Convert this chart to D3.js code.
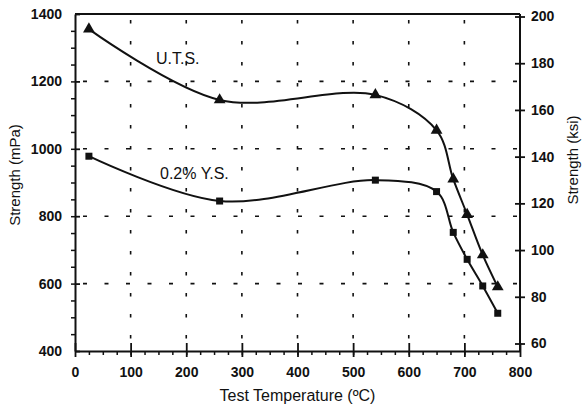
<!DOCTYPE html>
<html>
<head>
<meta charset="utf-8">
<script src="https://cdn.jsdelivr.net/npm/d3@7"></script>
<style>
  body { margin: 0; background: #fff; }
  svg { display: block; font-family: "Liberation Sans", Arial, sans-serif; }
</style>
</head>
<body>
<div id="chart"></div>
<script>
// test temperature (C) of each measured point
let temps = [25, 260, 540, 650, 680, 705, 733, 760];
// ultimate tensile strength (MPa)
let utsValues = [1355, 1145, 1160, 1055, 910, 805, 685, 590];
// 0.2% yield strength (MPa)
let ysValues = [978, 845, 907, 873, 752, 672, 593, 512];

let xTicks = [0, 100, 200, 300, 400, 500, 600, 700, 800];
let yTicks = [400, 600, 800, 1000, 1200, 1400];
let ksiTicks = [60, 80, 100, 120, 140, 160, 180, 200];

let width = 587;
let height = 404;
let margin = { left: 75, right: 67, top: 14, bottom: 53 };

let svg = d3.select("#chart").append("svg")
    .attr("width", width)
    .attr("height", height);

let x = d3.scaleLinear()
    .domain([0, 800])
    .range([margin.left, width - margin.right]);

let y = d3.scaleLinear()
    .domain([400, 1400])
    .range([height - margin.bottom, margin.top]);

// right hand axis in ksi
let yKsi = d3.scaleLinear()
    .domain([60, 200])
    .range([343.5, 16.5]);

let ink = "#111";

// grid lines (dashed), skip the frame lines
let grid = svg.append("g");
grid.selectAll("line.h")
    .data(yTicks.filter(d => d > 400 && d < 1400))
    .enter().append("line")
    .attr("x1", x(0)).attr("x2", x(800))
    .attr("y1", d => y(d)).attr("y2", d => y(d))
    .attr("stroke", ink)
    .attr("stroke-width", 1.6)
    .attr("stroke-dasharray", "4 17.5")
    .attr("stroke-dashoffset", -8);

grid.selectAll("line.v")
    .data(xTicks.filter(d => d > 0 && d < 800))
    .enter().append("line")
    .attr("x1", d => x(d)).attr("x2", d => x(d))
    .attr("y1", y(1400)).attr("y2", y(400))
    .attr("stroke", ink)
    .attr("stroke-width", 1.6)
    .attr("stroke-dasharray", "3.5 17.5")
    .attr("stroke-dashoffset", -6);

// top frame line
svg.append("line")
    .attr("x1", x(0)).attr("x2", x(800))
    .attr("y1", y(1400)).attr("y2", y(1400))
    .attr("stroke", ink)
    .attr("stroke-width", 2);

// minor ticks first so the major axes draw on top
let leftMinor = svg.append("g")
    .attr("transform", `translate(${margin.left}, 0)`)
    .call(d3.axisLeft(y).tickValues(d3.range(450, 1400, 50)).tickSize(4).tickFormat(""));

let bottomMinor = svg.append("g")
    .attr("transform", `translate(0, ${height - margin.bottom})`)
    .call(d3.axisBottom(x).tickValues(d3.range(25, 800, 25)).tickSize(4).tickFormat(""));

[leftMinor, bottomMinor].forEach(g => {
    g.select(".domain").remove();
    g.selectAll("line").attr("stroke", ink).attr("stroke-width", 1.5);
});

// left axis
let yAxisG = svg.append("g")
    .attr("transform", `translate(${margin.left}, 0)`)
    .call(d3.axisLeft(y).tickValues(yTicks).tickFormat(d3.format("d"))
        .tickSize(8).tickSizeOuter(0).tickPadding(5));
yAxisG.selectAll(".tick line").attr("x2", 5);

// bottom axis
let xAxisG = svg.append("g")
    .attr("transform", `translate(0, ${height - margin.bottom})`)
    .call(d3.axisBottom(x).tickValues(xTicks).tickFormat(d3.format("d"))
        .tickSize(6).tickSizeOuter(0).tickPadding(10));
xAxisG.selectAll(".tick line").attr("y2", 6).attr("y1", -8);

// right axis (ksi)
let ksiAxisG = svg.append("g")
    .attr("transform", `translate(${width - margin.right}, 0)`)
    .call(d3.axisRight(yKsi).tickValues(ksiTicks).tickFormat(d3.format("d"))
        .tickSize(5).tickSizeOuter(0).tickPadding(6));
ksiAxisG.selectAll(".tick line").attr("x1", -5);
ksiAxisG.select(".domain")
    .attr("d", `M0,${y(1400)}V${y(400)}`);

[yAxisG, xAxisG, ksiAxisG].forEach(g => {
    g.select(".domain").attr("stroke", ink).attr("stroke-width", 2);
    g.selectAll(".tick line").attr("stroke", ink).attr("stroke-width", 1.8);
    g.selectAll(".tick text")
        .attr("fill", ink)
        .style("font-size", "14px")
        .style("font-weight", "bold");
});

// axis titles
svg.append("text")
    .attr("transform", `translate(20, 175) rotate(-90)`)
    .attr("text-anchor", "middle")
    .attr("fill", ink)
    .style("font-size", "15px")
    .text("Strength (mPa)");

svg.append("text")
    .attr("transform", `translate(578, 160) rotate(-90)`)
    .attr("text-anchor", "middle")
    .attr("fill", ink)
    .style("font-size", "15px")
    .text("Strength (ksi)");

svg.append("text")
    .attr("x", (x(0) + x(800)) / 2)
    .attr("y", 401)
    .attr("text-anchor", "middle")
    .attr("fill", ink)
    .style("font-size", "16px")
    .text("Test Temperature (ºC)");

// curves
let line = (vals) => d3.line()
    .x((d, i) => x(temps[i]))
    .y(d => y(d))
    .curve(d3.curveCatmullRom.alpha(0.5))(vals);

[utsValues, ysValues].forEach(vals => {
    svg.append("path")
        .attr("d", line(vals))
        .attr("fill", "none")
        .attr("stroke", ink)
        .attr("stroke-width", 2);
});

// markers
svg.append("g").selectAll("path")
    .data(utsValues)
    .enter().append("path")
    .attr("transform", (d, i) => `translate(${x(temps[i])}, ${y(d)})`)
    .attr("d", d3.symbol(d3.symbolTriangle, 60))
    .attr("fill", ink);

svg.append("g").selectAll("rect")
    .data(ysValues)
    .enter().append("rect")
    .attr("x", (d, i) => x(temps[i]) - 3.5)
    .attr("y", d => y(d) - 3.5)
    .attr("width", 7)
    .attr("height", 7)
    .attr("fill", ink);

// curve labels
svg.append("text")
    .attr("x", 156).attr("y", 64)
    .attr("fill", ink)
    .style("font-size", "16px")
    .text("U.T.S.");

svg.append("text")
    .attr("x", 160).attr("y", 179)
    .attr("fill", ink)
    .style("font-size", "16px")
    .text("0.2% Y.S.");
</script>
</body>
</html>
